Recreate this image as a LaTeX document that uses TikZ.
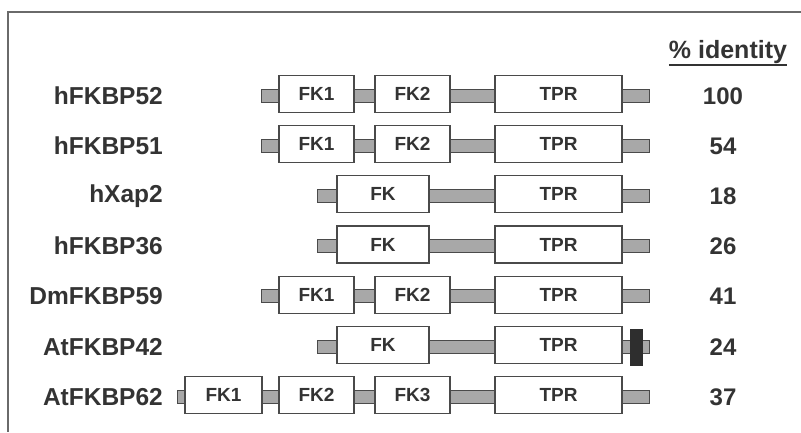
\documentclass[tikz,border=0pt]{standalone}
\usepackage{fontspec}
\setmainfont{Liberation Sans}
\definecolor{ink}{HTML}{333333}
\definecolor{edge}{HTML}{4A4A4A}
\definecolor{linkfill}{HTML}{A8A8A8}
\definecolor{motifcol}{HTML}{2E2E2E}
\definecolor{framecol}{HTML}{6A6A6A}

\begin{document}
\begin{tikzpicture}[x=1pt, y=-1pt,
  dombox/.style={draw=edge, line width=1.2pt, fill=white, minimum height=37pt,
    inner sep=0pt, font=\fontsize{19}{19}\selectfont\bfseries, text=ink},
  linker/.style={draw=edge, line width=0.9pt, fill=linkfill},
  protein/.style={anchor=east, inner sep=0pt, font=\fontsize{24.5}{24.5}\selectfont\bfseries, text=ink},
  ident/.style={inner sep=0pt, font=\fontsize{24}{24}\selectfont\bfseries, text=ink}]

  % --- page and open frame ---
  \useasboundingbox (0,0) rectangle (801,432);
  \draw[framecol, line width=2pt] (801,12) -- (8,12) -- (8,432);

  % --- column heading ---
  \node[ident, anchor=base, font=\fontsize{25}{25}\selectfont\bfseries] (head) at (728,58) {\% identity};
  \draw[ink, line width=1.3pt] ([yshift=-7pt]head.base west) -- ([yshift=-7pt]head.base east);

  % --- rows: name / y / start of chain / identity ---
  \foreach \name/\yy/\xs/\pct [count=\i] in {
      hFKBP52/96/261/100, hFKBP51/146/261/54, hXap2/196/317/18,
      hFKBP36/246/317/26, DmFKBP59/296/261/41, AtFKBP42/347/317/24,
      AtFKBP62/397/177/37} {
    \draw[linker] (\xs,\yy-6.5) rectangle (649,\yy+6.5);
    \node[protein] (p\i) at (163,\yy) {\name};
    \node[ident] (id\i) at (723,\yy) {\pct};
  }

  % --- domains: row / label / left / right ---
  \foreach \i/\lab/\xa/\xb in {
      1/FK1/279/354, 1/FK2/375/450, 1/TPR/495/622,
      2/FK1/279/354, 2/FK2/375/450, 2/TPR/495/622,
      3/FK/337/429, 3/TPR/495/622,
      4/FK/337/429, 4/TPR/495/622,
      5/FK1/279/354, 5/FK2/375/450, 5/TPR/495/622,
      6/FK/337/429, 6/TPR/495/622,
      7/FK1/185/262, 7/FK2/279/354, 7/FK3/375/450, 7/TPR/495/622} {
    \pgfmathsetmacro{\yy}{96+50.17*(\i-1)}
    \pgfmathsetmacro{\ww}{\xb-\xa}
    \node[dombox, minimum width=\ww pt] (d\i-\lab) at ({(\xa+\xb)/2},\yy-2) {\lab};
  }

  % --- C-terminal motif of AtFKBP42 ---
  \node[fill=motifcol, minimum width=13pt, minimum height=37pt, inner sep=0pt] (motif) at (636.5,347) {};

\end{tikzpicture}
\end{document}
